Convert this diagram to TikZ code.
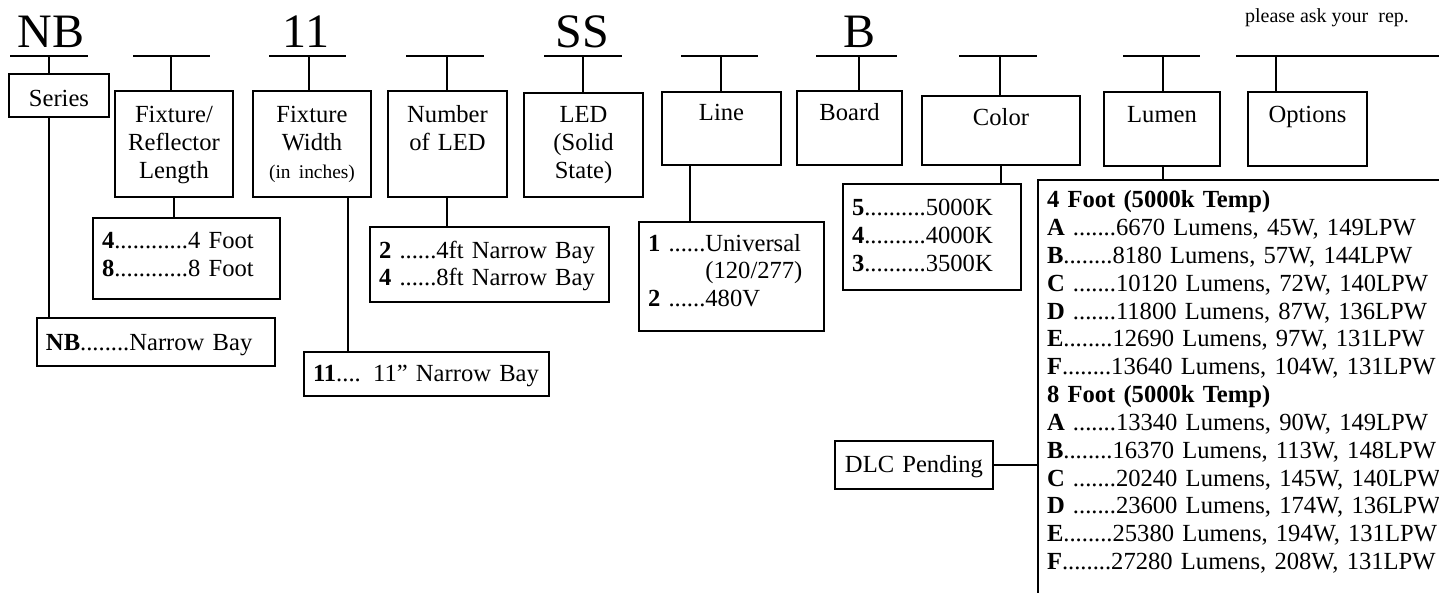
\documentclass[tikz,border=0pt]{standalone}
\usepackage{fontspec}
\setmainfont{Liberation Serif}
\usepackage{tikz}
\usetikzlibrary{calc,positioning}
\newcommand{\cellfont}{\fontsize{12.3}{13.9}\selectfont}
\tikzset{
  code/.style={font=\fontsize{24}{24}\selectfont, inner sep=0pt, anchor=base},
  cell/.style={draw, inner sep=0pt, anchor=north west, align=center, font=\cellfont},
  pick/.style={draw, inner xsep=4.5pt, inner ysep=0pt, anchor=north west, align=left, font=\cellfont},
}

\begin{document}
\begin{tikzpicture}[x=0.5pt, y=-0.5pt, line width=1pt]
  \useasboundingbox (0,0) rectangle (1439,593);
  \clip (0,0) rectangle (1439,593);
  % part number
  \node[code] (nb) at (51,48) {NB};
  \node[code] (wd) at (306,48) {11};
  \node[code] (ss) at (582,48) {SS};
  \node[code] (bd) at (859,48) {B};
  \node[font=\fontsize{10}{12}\selectfont] (note) at (1327,18) {please ask your~ rep.};
  % headings
  \node[cell, text width=50pt, text height=16.5pt, text depth=5pt] (series) at (8,73) {Series};
  \node[cell, text width=59pt, text height=16pt, text depth=37pt] (length) at (114,90) {Fixture/\\Reflector\\Length};
  \node[cell, text width=59pt, text height=16pt, text depth=37pt] (width) at (252,90) {Fixture\\Width\\{\fontsize{9.7}{11}\selectfont (in inches)}};
  \node[cell, text width=59.5pt, text height=16pt, text depth=37pt] (count) at (387,90) {Number\\of LED};
  \node[cell, text width=59.5pt, text height=15pt, text depth=37pt] (led) at (523,92) {LED\\(Solid\\State)};
  \node[cell, text width=59.5pt, text height=14.5pt, text depth=22pt] (line) at (661,91) {Line};
  \node[cell, text width=52.5pt, text height=15pt, text depth=22pt] (board) at (796,90) {Board};
  \node[cell, text width=79pt, text height=15pt, text depth=19.5pt] (color) at (921,95) {Color};
  \node[cell, text width=58pt, text height=15.5pt, text depth=21.5pt] (lumen) at (1103,91) {Lumen};
  \node[cell, text width=59.5pt, text height=15.5pt, text depth=21.5pt] (options) at (1247,91) {Options};
  % choices
  \node[pick, text width=84.5pt, text height=15.5pt, text depth=25pt] (lenopt) at (92,217)
    {\textbf{4}............4 Foot\\\textbf{8}............8 Foot};
  \node[pick, text width=110pt, text height=16pt, text depth=8pt] (nbopt) at (36,317)
    {\textbf{NB}........Narrow Bay};
  \node[pick, text width=113.5pt, text height=14.5pt, text depth=7.5pt] (widopt) at (303,351)
    {\textbf{11}.... 11” Narrow Bay};
  \node[pick, text width=110.5pt, text height=15.5pt, text depth=22pt] (cntopt) at (369,226)
    {\textbf{2} ......4ft Narrow Bay\\\textbf{4} ......8ft Narrow Bay};
  \node[pick, text width=83.5pt, text height=14.5pt, text depth=40pt] (lineopt) at (638,221)
    {\textbf{1} ......Universal\\\phantom{\textbf{1} ......}(120/277)\\\textbf{2} ......480V};
  \node[pick, text width=80pt, text height=16pt, text depth=37pt] (colopt) at (842,183)
    {\textbf{5}..........5000K\\\textbf{4}..........4000K\\\textbf{3}..........3500K};
  \node[pick, text width=216pt, text height=14pt, text depth=210pt] (lumopt) at (1037,179)
    {\textbf{4 Foot (5000k Temp)}\\
     \textbf{A} .......6670 Lumens, 45W, 149LPW\\
     \textbf{B}........8180 Lumens, 57W, 144LPW\\
     \textbf{C} .......10120 Lumens, 72W, 140LPW\\
     \textbf{D} .......11800 Lumens, 87W, 136LPW\\
     \textbf{E}........12690 Lumens, 97W, 131LPW\\
     \textbf{F}........13640 Lumens, 104W, 131LPW\\
     \textbf{8 Foot (5000k Temp)}\\
     \textbf{A} .......13340 Lumens, 90W, 149LPW\\
     \textbf{B}........16370 Lumens, 113W, 148LPW\\
     \textbf{C} .......20240 Lumens, 145W, 140LPW\\
     \textbf{D} .......23600 Lumens, 174W, 136LPW\\
     \textbf{E}........25380 Lumens, 194W, 131LPW\\
     \textbf{F}........27280 Lumens, 208W, 131LPW};
  \node[cell, text width=79pt, text height=15.5pt, text depth=8.5pt] (dlc) at (834,440) {DLC Pending};
  % blanks and stems
  \foreach \a/\b/\c/\n in {10/88/49/series, 133/210/171/length, 269/346/309/width,
      406/484/447/count, 544/622/583/led, 681/758/721/line, 816/897/859/board,
      959/1037/1000/color, 1123/1200/1163/lumen, 1236/1460/1276/options} {
    \draw (\a,56) -- (\b,56);
    \coordinate (t\n) at (\c,56);
    \draw (t\n) -- (t\n |- \n.north);
  }
  \draw (tseries |- series.south) -- (tseries |- nbopt.north);
  \draw (length.south) -- (length.south |- lenopt.north);
  \draw ([xshift=18pt]width.south) coordinate (w) -- (w |- widopt.north);
  \draw (count.south -| tcount) -- (tcount |- cntopt.north);
  \draw ([xshift=-16pt]line.south) coordinate (l) -- (l |- lineopt.north);
  \draw (color.south) -- (color.south |- colopt.north);
  \draw (tlumen |- lumen.south) -- (tlumen |- lumopt.north);
  \draw (dlc.east) -- (dlc.east -| lumopt.west);
\end{tikzpicture}
\end{document}
